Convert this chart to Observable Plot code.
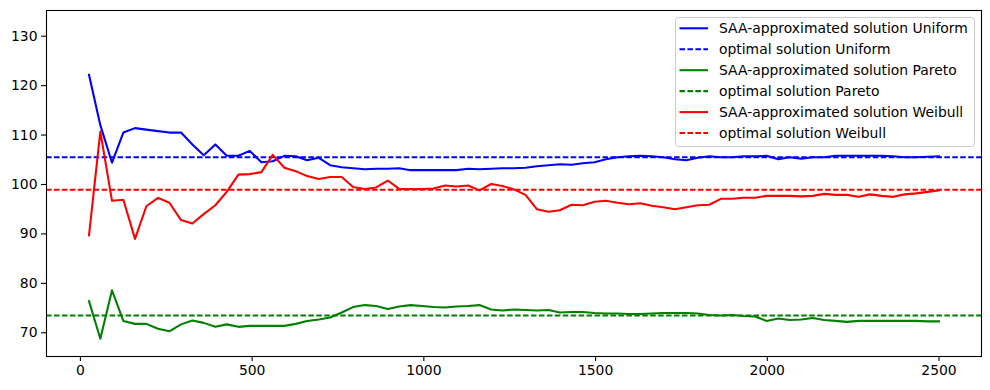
<!DOCTYPE html>
<html><head><meta charset="utf-8">
<script src="https://cdn.jsdelivr.net/npm/d3@7"></script>
<script src="https://cdn.jsdelivr.net/npm/@observablehq/plot@0.6"></script>
<style>
html,body{margin:0;padding:0;background:#fff;}
#wrap{position:relative;width:990px;height:390px;font-family:"DejaVu Sans",sans-serif;}
#legend{position:absolute;left:675px;top:17px;}
</style>
</head><body>
<div id="wrap"></div>
<script>
// sample sizes
const sampleSizes = [25,58,92,125,159,192,226,259,293,326,359,393,426,460,493,527,560,594,627,660,
  694,727,761,794,828,861,895,928,961,995,1028,1062,1095,1129,1162,1196,1229,1262,1296,1329,
  1363,1396,1430,1463,1497,1530,1564,1597,1630,1664,1697,1731,1764,1798,1831,1865,1898,1931,1965,1998,
  2032,2065,2099,2132,2166,2199,2232,2266,2299,2333,2366,2400,2433,2467,2500];

const saaUniform = [122.2,112.0,104.4,110.5,111.4,111.1,110.8,110.5,110.5,108.1,
  105.9,108.1,105.8,105.8,106.8,104.5,104.7,105.8,105.7,104.9,
  105.4,103.9,103.5,103.3,103.1,103.2,103.2,103.3,102.9,102.9,
  102.9,102.9,102.9,103.2,103.1,103.2,103.3,103.3,103.4,103.7,
  103.9,104.1,104.0,104.3,104.5,105.1,105.5,105.7,105.8,105.7,
  105.5,105.1,104.9,105.4,105.7,105.5,105.5,105.7,105.7,105.8,
  105.1,105.5,105.2,105.5,105.5,105.8,105.8,105.8,105.8,105.8,
  105.7,105.5,105.5,105.6,105.7];

const saaPareto = [76.4,68.8,78.6,72.4,71.8,71.8,70.8,70.3,71.7,72.5,
  72.0,71.2,71.7,71.2,71.4,71.4,71.4,71.4,71.8,72.4,
  72.7,73.1,74.1,75.2,75.6,75.4,74.8,75.3,75.6,75.4,
  75.2,75.1,75.3,75.4,75.6,74.7,74.5,74.7,74.6,74.5,
  74.6,74.1,74.2,74.2,74.0,73.9,73.9,73.8,73.8,73.9,
  74.0,74.0,74.0,73.9,73.6,73.5,73.6,73.4,73.3,72.4,
  72.9,72.6,72.7,73.0,72.6,72.4,72.2,72.4,72.4,72.4,
  72.4,72.4,72.4,72.3,72.3];

const saaWeibull = [89.7,110.7,96.7,96.9,89.0,95.6,97.3,96.3,92.8,92.1,
  94.0,95.8,98.5,102.0,102.1,102.5,106.0,103.4,102.7,101.7,
  101.1,101.5,101.5,99.5,99.1,99.4,100.8,99.1,99.1,99.1,
  99.2,99.8,99.6,99.8,98.8,100.1,99.7,99.0,97.9,95.0,
  94.5,94.8,95.9,95.8,96.5,96.7,96.3,96.0,96.2,95.7,
  95.4,95.0,95.4,95.8,95.9,97.1,97.1,97.3,97.3,97.7,
  97.7,97.7,97.6,97.7,98.1,97.9,97.9,97.5,98.0,97.7,
  97.5,98.0,98.2,98.5,98.8];

const optUniform = 105.5;
const optPareto = 73.5;
const optWeibull = 98.95;

const xTicks = [0,500,1000,1500,2000,2500];
const yTicks = [70,80,90,100,110,120,130];

const seriesNames = ["SAA-approximated solution Uniform","optimal solution Uniform",
  "SAA-approximated solution Pareto","optimal solution Pareto",
  "SAA-approximated solution Weibull","optimal solution Weibull"];
const seriesColors = ["#0000ff","#0000ff","#008000","#008000","#ff0000","#ff0000"];
const seriesDashed = [false,true,false,true,false,true];

const LW = 2.08, DASH = "5.55,2.4";
const FS = "13.9px";
const lineOpts = (c) => ({stroke: c, strokeWidth: LW, strokeLinejoin: "round", strokeLinecap: "square"});

const chart = Plot.plot({
  width: 990, height: 390,
  marginLeft: 46, marginRight: 9, marginTop: 10, marginBottom: 34,
  style: {fontFamily: "DejaVu Sans, sans-serif", fontSize: FS, color: "black", background: "white"},
  x: {domain: [-98.75, 2623.75]},
  y: {domain: [65.2, 135.2]},
  marks: [
    Plot.lineY(saaUniform, {x: (d,i) => sampleSizes[i], y: d => d, ...lineOpts(seriesColors[0])}),
    Plot.ruleY([optUniform], {stroke: seriesColors[1], strokeWidth: LW, strokeDasharray: DASH}),
    Plot.lineY(saaPareto, {x: (d,i) => sampleSizes[i], y: d => d, ...lineOpts(seriesColors[2])}),
    Plot.ruleY([optPareto], {stroke: seriesColors[3], strokeWidth: LW, strokeDasharray: DASH}),
    Plot.lineY(saaWeibull, {x: (d,i) => sampleSizes[i], y: d => d, ...lineOpts(seriesColors[4])}),
    Plot.ruleY([optWeibull], {stroke: seriesColors[5], strokeWidth: LW, strokeDasharray: DASH}),
    Plot.frame({stroke: "black", strokeWidth: 1.1}),
    Plot.axisX({ticks: xTicks, tickFormat: d => String(d), tickSize: 5, tickPadding: 4, label: null, strokeWidth: 1.1, fontSize: FS}),
    Plot.axisY({ticks: yTicks, tickFormat: d => String(d), tickSize: 5, tickPadding: 4, label: null, strokeWidth: 1.1, fontSize: FS})
  ]
});

const wrap = document.getElementById("wrap");
wrap.appendChild(chart);

// legend overlay
const lw = 300, lh = 130;
const leg = d3.select(wrap).append("svg").attr("id","legend")
  .attr("width", lw).attr("height", lh);
leg.append("rect").attr("x",0.5).attr("y",0.5).attr("width",lw-1).attr("height",lh-1)
  .attr("rx",3).attr("fill","rgba(255,255,255,0.8)").attr("stroke","#cccccc").attr("stroke-width",1);
const rows = leg.selectAll("g.row").data(seriesNames).join("g")
  .attr("transform",(d,i)=>`translate(0,${11.3 + i*20.95})`);
rows.append("line").attr("x1",4.5).attr("x2",33).attr("y1",0).attr("y2",0)
  .attr("stroke",(d,i)=>seriesColors[i]).attr("stroke-width",LW)
  .attr("stroke-dasharray",(d,i)=>seriesDashed[i]?DASH:null);
rows.append("text").attr("x",44).attr("y",0).attr("dy","0.35em")
  .attr("font-family","DejaVu Sans, sans-serif").attr("font-size",FS).attr("fill","black")
  .text(d=>d);
</script>
</body></html>
